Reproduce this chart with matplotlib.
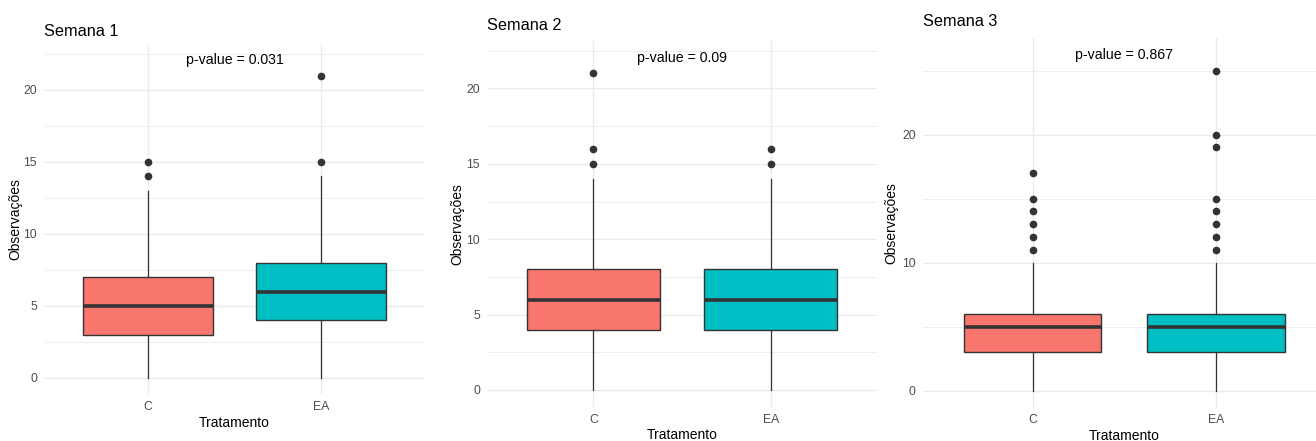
import matplotlib.pyplot as plt
from matplotlib.ticker import MultipleLocator

plt.rcParams['font.family'] = ['Liberation Sans', 'DejaVu Sans']

W, H = 1316, 441

titulos = ['Semana 1', 'Semana 2', 'Semana 3']
grupos = ['C', 'EA']
pvalores = ['0.031', '0.09', '0.867']
q1 = [[3, 4], [4, 4], [3, 3]]
mediana = [[5, 6], [6, 6], [5, 5]]
q3 = [[7, 8], [8, 8], [6, 6]]
bigode_min = [[0, 0], [0, 0], [0, 0]]
bigode_max = [[13, 14], [14, 14], [10, 10]]
outliers = [
    [[14, 15], [15, 21]],
    [[15, 16, 21], [15, 16]],
    [[11, 12, 13, 14, 15, 17], [11, 12, 13, 14, 15, 19, 20, 25]],
]
cores = ['#F8766D', '#00BFC4']

# posicao dos paineis em pixels (esq, dir, topo, base)
paineis = [(44, 425, 44.6, 393.8), (487, 877, 40.9, 406.6), (922.7, 1326, 37.9, 407.5)]
titulo_y = [31, 25, 22]
ylab_x = [15, 457, 891]
major = [5, 5, 10]

fig = plt.figure(figsize=(W / 100, H / 100), dpi=100)

for i in range(3):
    l, r, t, b = paineis[i]
    ax = fig.add_axes([l / W, 1 - b / H, (r - l) / W, (b - t) / H])
    stats = []
    for j in range(2):
        stats.append(dict(q1=q1[i][j], med=mediana[i][j], q3=q3[i][j],
                          whislo=bigode_min[i][j], whishi=bigode_max[i][j],
                          fliers=outliers[i][j]))
    bp = ax.bxp(stats, positions=[1, 2], widths=0.75, patch_artist=True,
                showcaps=False,
                boxprops=dict(edgecolor='#333333', linewidth=1.0),
                whiskerprops=dict(color='#333333', linewidth=0.9),
                medianprops=dict(color='#333333', linewidth=2.6, solid_capstyle='butt'),
                flierprops=dict(marker='o', markerfacecolor='#333333',
                                markeredgecolor='#333333', markersize=4.5))
    for patch, c in zip(bp['boxes'], cores):
        patch.set_facecolor(c)
    for z in bp['whiskers']:
        z.set_zorder(1)

    ymax = max(max(o) for o in outliers[i])
    ytxt = ymax * 1.05
    ax.text(1.5, ytxt, 'p-value = ' + pvalores[i], ha='center', va='center',
            fontsize=10.2, color='black')

    ax.set_xlim(0.4, 2.6)
    ax.set_ylim(-0.05 * ytxt, 1.05 * ytxt)
    ax.set_xticks([1, 2])
    ax.set_xticklabels(grupos)
    ax.yaxis.set_major_locator(MultipleLocator(major[i]))
    ax.yaxis.set_minor_locator(MultipleLocator(major[i] / 2))
    ax.grid(True, which='major', color='#EBEBEB', linewidth=1.0, zorder=0)
    ax.grid(True, which='minor', axis='y', color='#EBEBEB', linewidth=0.6, zorder=0)
    ax.set_axisbelow(True)
    for s in ax.spines.values():
        s.set_visible(False)
    ax.tick_params(which='both', length=0, labelsize=8.8, labelcolor='#4D4D4D')
    ax.tick_params(axis='y', pad=5)
    ax.tick_params(axis='x', pad=5)
    ax.set_xlabel('Tratamento', fontsize=10, labelpad=2)
    ax.set_ylabel('')

    fig.text(l / W, 1 - titulo_y[i] / H, titulos[i], ha='left', va='center', fontsize=11.7)
    fig.text(ylab_x[i] / W, 1 - (t + b) / 2 / H, 'Observações', rotation=90,
             ha='center', va='center', fontsize=10)

fig.savefig('out.png', dpi=100, facecolor='white')
